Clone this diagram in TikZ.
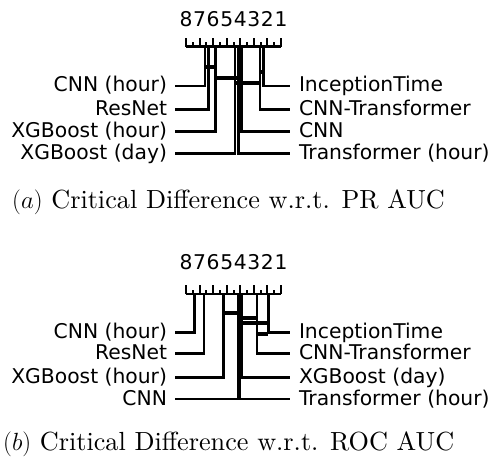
\documentclass[tikz,border=0pt]{standalone}
\usepackage{fontspec}
\newfontfamily\cdfont{DejaVu Sans}
\newfontfamily\capfont{lmroman10-regular.otf}
\tikzset{
  cdlabel/.style={font=\cdfont\fontsize{20.3}{24}\selectfont,inner ysep=0pt,outer sep=0pt,text height=15pt,text depth=3pt},
  leftlabel/.style={cdlabel,anchor=east,inner xsep=8pt},
  rightlabel/.style={cdlabel,anchor=west,inner xsep=9pt},
  ranklink/.style={line width=2.5pt},
  cliquebar/.style={line width=4pt},
  axisline/.style={line width=2.6pt},
  tickline/.style={line width=2pt},
  ticklab/.style={font=\cdfont\fontsize{20.3}{24}\selectfont,anchor=base,inner sep=0pt},
  subcap/.style={font=\capfont\fontsize{26.2}{31}\selectfont,anchor=base west,inner sep=0pt}
}
\begin{document}
\begin{tikzpicture}[x=1pt,y=-1pt,declare function={rk(\r)=186+(8-\r)*13.571;}]
\useasboundingbox (0,0) rectangle (495,462);

% (a) PR AUC
\draw[axisline] ({rk(8)},46.7) -- ({rk(1)},46.7);
\foreach \r in {1,...,8} {
  \draw[tickline] ({rk(\r)},46.7) -- ({rk(\r)},38.3);
  \node[ticklab] (pr-tick\r) at ({rk(\r)},26.7) {\r};
}
\foreach \r in {1.5,2.5,...,7.5}
  \draw[tickline] ({rk(\r)},46.7) -- ({rk(\r)},42.5);

\coordinate (pr-cnnh) at ({rk(6.60)},46.7);
\coordinate (pr-resnet) at ({rk(6.36)},46.7);
\coordinate (pr-xgbh) at ({rk(5.82)},46.7);
\coordinate (pr-xgbd) at ({rk(4.39)},46.7);
\coordinate (pr-trh) at ({rk(4.15)},46.7);
\coordinate (pr-cnn) at ({rk(3.90)},46.7);
\coordinate (pr-cnntr) at ({rk(2.55)},46.7);
\coordinate (pr-incep) at ({rk(2.30)},46.7);

\node[leftlabel] (pr-cnnh-l) at (175,86) {CNN (hour)};
\node[leftlabel] (pr-resnet-l) at (175,109.3) {ResNet};
\node[leftlabel] (pr-xgbh-l) at (175,131.7) {XGBoost (hour)};
\node[leftlabel] (pr-xgbd-l) at (175,153.3) {XGBoost (day)};
\node[rightlabel] (pr-incep-l) at (290,86) {InceptionTime};
\node[rightlabel] (pr-cnntr-l) at (290,109.3) {CNN-Transformer};
\node[rightlabel] (pr-cnn-l) at (290,131.7) {CNN};
\node[rightlabel] (pr-trh-l) at (290,153.3) {Transformer (hour)};

\draw[ranklink] (pr-cnnh) |- (pr-cnnh-l.east);
\draw[ranklink] (pr-resnet) |- (pr-resnet-l.east);
\draw[ranklink] (pr-xgbh) |- (pr-xgbh-l.east);
\draw[ranklink] (pr-xgbd) |- (pr-xgbd-l.east);
\draw[ranklink] (pr-incep) |- (pr-incep-l.west);
\draw[ranklink] (pr-cnntr) |- (pr-cnntr-l.west);
\draw[ranklink] (pr-cnn) |- (pr-cnn-l.west);
\draw[ranklink] (pr-trh) |- (pr-trh-l.west);

\draw[cliquebar] ({rk(6.60)},67.3) -- ({rk(5.82)},67.3);
\draw[cliquebar] ({rk(2.55)},72.5) -- ({rk(2.30)},72.5);
\draw[cliquebar] ({rk(5.82)},77.7) -- ({rk(4.15)},77.7);
\draw[cliquebar] ({rk(4.39)},82.9) -- ({rk(2.55)},82.9);

\node[subcap] (pr-cap) at (12,209) {$(a)$ Critical Difference w.r.t. PR AUC};

% (b) ROC AUC
\draw[axisline] ({rk(8)},294) -- ({rk(1)},294);
\foreach \r in {1,...,8} {
  \draw[tickline] ({rk(\r)},294) -- ({rk(\r)},285);
  \node[ticklab] (roc-tick\r) at ({rk(\r)},269.7) {\r};
}
\foreach \r in {1.5,2.5,...,7.5}
  \draw[tickline] ({rk(\r)},294) -- ({rk(\r)},289.5);

\coordinate (roc-cnnh) at ({rk(7.38)},294);
\coordinate (roc-resnet) at ({rk(6.67)},294);
\coordinate (roc-xgbh) at ({rk(5.25)},294);
\coordinate (roc-cnn) at ({rk(4.13)},294);
\coordinate (roc-trh) at ({rk(4.05)},294);
\coordinate (roc-xgbd) at ({rk(3.90)},294);
\coordinate (roc-cnntr) at ({rk(2.78)},294);
\coordinate (roc-incep) at ({rk(1.93)},294);

\node[leftlabel] (roc-cnnh-l) at (175,332.3) {CNN (hour)};
\node[leftlabel] (roc-resnet-l) at (175,353.3) {ResNet};
\node[leftlabel] (roc-xgbh-l) at (175,377.3) {XGBoost (hour)};
\node[leftlabel] (roc-cnn-l) at (175,399) {CNN};
\node[rightlabel] (roc-incep-l) at (290,332.3) {InceptionTime};
\node[rightlabel] (roc-cnntr-l) at (290,353.3) {CNN-Transformer};
\node[rightlabel] (roc-xgbd-l) at (290,377.3) {XGBoost (day)};
\node[rightlabel] (roc-trh-l) at (290,399) {Transformer (hour)};

\draw[ranklink] (roc-cnnh) |- (roc-cnnh-l.east);
\draw[ranklink] (roc-resnet) |- (roc-resnet-l.east);
\draw[ranklink] (roc-xgbh) |- (roc-xgbh-l.east);
\draw[ranklink] (roc-cnn) |- (roc-cnn-l.east);
\draw[ranklink] (roc-incep) |- (roc-incep-l.west);
\draw[ranklink] (roc-cnntr) |- (roc-cnntr-l.west);
\draw[ranklink] (roc-xgbd) |- (roc-xgbd-l.west);
\draw[ranklink] (roc-trh) |- (roc-trh-l.west);

\draw[cliquebar] ({rk(5.25)},313) -- ({rk(4.05)},313);
\draw[cliquebar] ({rk(4.13)},318.2) -- ({rk(2.78)},318.2);
\draw[cliquebar] ({rk(4.05)},323.4) -- ({rk(1.93)},323.4);
\draw[cliquebar] ({rk(2.78)},333.8) -- ({rk(1.93)},333.8);

\node[subcap] (roc-cap) at (3,450) {$(b)$ Critical Difference w.r.t. ROC AUC};
\end{tikzpicture}
\end{document}
